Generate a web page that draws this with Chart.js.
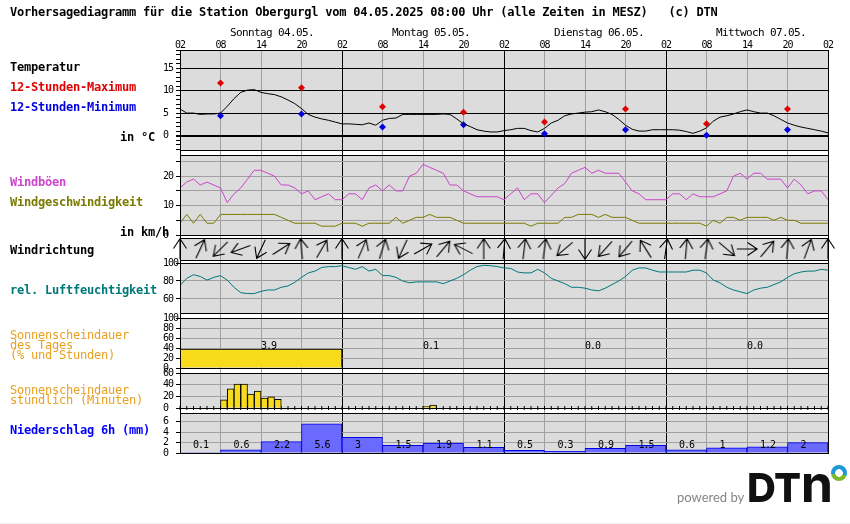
<!DOCTYPE html>
<html lang="de">
<head>
<meta charset="utf-8">
<title>Vorhersagediagramm Obergurgl</title>
<script src="https://cdn.jsdelivr.net/npm/chart.js@4"></script>
<style>
    html, body { margin: 0; padding: 0; background: #fff; }
    #page { position: relative; width: 850px; height: 524px; overflow: hidden; }
    canvas { position: absolute; left: 0; }
    .lbl {
        position: absolute; white-space: pre; z-index: 5;
        font: bold 12px/14px "DejaVu Sans Mono", monospace; letter-spacing: -0.22px;
    }
    .day { font: 11px/14px "DejaVu Sans Mono", monospace; letter-spacing: -0.62px; top: 26px; }
    .orange { color: #e8a020; font-weight: normal; }
    #logo { position: absolute; left: 0; top: 0; z-index: 5; }
    #powered { position: absolute; left: 677px; top: 489px; font: 13px/16px Lato, sans-serif; color: #858585; white-space: nowrap; }
    #dtn { position: absolute; left: 747px; top: 464px; font: 800 40px/46px Inter, sans-serif; letter-spacing: -0.5px; color: #111; white-space: pre; }
    #dtn span { font-size: 52px; line-height: 40px; font-weight: 700; text-transform: lowercase; letter-spacing: 0; }
    #ring {
        position: absolute; left: 831px; top: 465px; width: 16px; height: 16px; border-radius: 50%;
        background: radial-gradient(circle, #fff 0 3.6px, transparent 4px), conic-gradient(from 110deg, #7ab929 0 150deg, #1b9ad6 150deg 360deg);
    }
    #footline { position: absolute; left: 0; top: 523px; width: 850px; height: 1px; background: #efefef; }
</style>
</head>
<body>
<div id="page">
    <div class="lbl" style="left:10px;top:5px">Vorhersagediagramm für die Station Obergurgl vom 04.05.2025 08:00 Uhr (alle Zeiten in MESZ)   (c) DTN</div>
    <div class="lbl day" style="left:230px">Sonntag 04.05.</div>
    <div class="lbl day" style="left:392px">Montag 05.05.</div>
    <div class="lbl day" style="left:554px">Dienstag 06.05.</div>
    <div class="lbl day" style="left:716px">Mittwoch 07.05.</div>

    <div class="lbl" style="left:10px;top:60px">Temperatur</div>
    <div class="lbl" style="left:10px;top:80px;color:#e00000">12-Stunden-Maximum</div>
    <div class="lbl" style="left:10px;top:100px;color:#0000e0">12-Stunden-Minimum</div>
    <div class="lbl" style="left:120px;top:130px">in °C</div>
    <div class="lbl" style="left:10px;top:175px;color:#cc44cc">Windböen</div>
    <div class="lbl" style="left:10px;top:195px;color:#7a7a00">Windgeschwindigkeit</div>
    <div class="lbl" style="left:120px;top:225px">in km/h</div>
    <div class="lbl" style="left:10px;top:243px">Windrichtung</div>
    <div class="lbl" style="left:10px;top:283px;color:#007878">rel. Luftfeuchtigkeit</div>
    <div class="lbl orange" style="left:10px;top:328px">Sonnenscheindauer</div>
    <div class="lbl orange" style="left:10px;top:338px">des Tages</div>
    <div class="lbl orange" style="left:10px;top:348px">(% und Stunden)</div>
    <div class="lbl orange" style="left:10px;top:383px">Sonnenscheindauer</div>
    <div class="lbl orange" style="left:10px;top:393px">stündlich (Minuten)</div>
    <div class="lbl" style="left:10px;top:423px;color:#0000ff">Niederschlag 6h (mm)</div>

    <div id="logo">
        <div id="powered">powered by</div>
        <div id="dtn">DT<span>N</span></div>
        <div id="ring"></div>
    </div>
    <div id="footline"></div>
</div>

<script>
// --- Data ---
const hourTickLabels = ["02","08","14","20","02","08","14","20","02","08","14","20","02","08","14","20","02"];
const dayNames = ["Sonntag","Montag","Dienstag","Mittwoch"];

// hourly, starting 02:00 on 04.05.
const temperature = [
    5.9,5.0,5.0,4.7,4.8,4.8,5.0,6.5,8.2,9.6,10.1,10.2,9.6,9.3,9.1,8.6,7.9,7.1,6.0,4.7,4.1,3.7,3.4,3.0,
    2.6,2.6,2.5,2.4,2.8,2.3,3.4,3.8,3.9,4.7,4.7,4.7,4.7,4.7,4.7,4.8,4.7,3.7,2.6,2.0,1.3,1.0,0.8,0.8,
    1.1,1.3,1.6,1.6,1.1,0.8,1.6,2.8,3.4,4.4,4.8,5.0,5.2,5.3,5.7,5.3,4.7,3.6,2.3,1.4,1.0,1.0,1.3,1.3,
    1.3,1.3,1.2,0.9,0.5,1.0,1.7,3.2,4.1,4.4,4.8,5.3,5.7,5.3,5.0,5.0,4.4,3.6,2.8,2.3,1.9,1.6,1.3,1.0,0.6
];
const extremeHours = [6,18,30,42,54,66,78,90];
const tempMax = [11.7,10.6,6.4,5.2,3.0,5.9,2.6,5.9];
const tempMin = [4.4,4.8,1.9,2.4,0.4,1.3,0.1,1.3];

const windGusts = [
    16,18,19,17,18,17,16,11,14,16,19,22,22,21,20,17,17,16,14,15,12,13,14,12,
    12,14,14,12,16,17,15,17,15,15,20,21,24,23,22,21,17,17,15,14,13,13,13,13,
    12,14,16,12,14,14,11,13.5,16,17.5,21,22,23,21,22,21,21,21,18,15,14,12,12,12,
    12,14,14,12,14,13,13,13,14,15,20,21,19,21,21,19,19,19,16,19,17,14,15,15,12
];
const windSpeed = [
    4,7,4,7,4,4,7,7,7,7,7,7,7,7,7,6,5,4,4,4,4,3,3,3,
    4,4,4,3,4,4,4,4,6,4,5,6,6,7,6,6,6,5,4,4,4,4,4,4,
    4,4,4,4,3,4,4,4,4,6,6,7,7,7,6,7,6,6,6,5,4,4,4,4,
    4,4,4,4,4,4,3,5,4,6,6,5,6,6,6,6,5,6,5,5,4,4,4,4,4
];
// one arrow every 3 hours, degrees clockwise from north
const windDirection = [0,25,225,250,205,57,355,30,0,23,17,205,60,40,297,0,5,7,8,230,180,222,220,328,8,5,8,130,90,40,5,20,0];

const humidity = [
    75,83,87,85,81,84,86,81,73,67,66,66,68.5,70,70,73,74.5,78.5,84,89,91,95,96,96,
    97,95,93,96,91,93,86,86,84,80,78,79,79,79,79,77,80,83,87,92,96,97.5,97,96,
    94.5,94,90,89,89,93,89,83,80,77,73,73,72,70,69,72,76,80,85,92,94.5,94.5,92,90,
    90,90,90,90,92,92,89,81,78,73,70,68,66,70,72,73,76,79,84,88,90,91,91,93,92
];

const sunDayPercent = [38,1,null,null];
const sunDayHours = [3.9,0.1,0.0,0.0];
// 96 hourly slots are built from these two lists
const sunHourSlots = [6,7,8,9,10,11,12,13,14,36,37];
const sunHourMinutes = [14,33,41,41,24,29,17,19,15,3,5];

const precipitation = [0.1,0.6,2.2,5.6,3,1.5,1.9,1.1,0.5,0.3,0.9,1.5,0.6,1,1.2,2];

// --- Shared look ---
const GRAY_BG = "#dcdcdc";
const GRID = "#a0a0a0";
const MONO = '"DejaVu Sans Mono", monospace';

Chart.defaults.animation = false;
Chart.defaults.responsive = false;

const page = document.getElementById("page");
const slotLabels = n => Array.from({ length: n }, (_, i) => String(i));
const toXY = (values, step = 1) => values.map((y, i) => ({ x: i * step, y }));

// arrow bitmap for the wind direction row, one per reading
function makeArrow(deg) {
    const c = document.createElement("canvas");
    c.width = 30;
    c.height = 30;
    const g = c.getContext("2d");
    g.translate(15, 15);
    g.rotate(deg * Math.PI / 180);
    g.strokeStyle = "#000";
    g.lineWidth = 1.1;
    g.beginPath();
    g.moveTo(0, 10.2);
    g.lineTo(0, -10.2);
    g.moveTo(-6.5, -0.5);
    g.lineTo(0, -10.2);
    g.lineTo(6.5, -0.5);
    g.stroke();
    return c;
}

function hourAxis() {
    return {
        type: "linear", min: 0, max: 96, offset: false,
        afterFit: s => { s.height = 0; },
        border: { display: false },
        ticks: { display: false, stepSize: 6 },
        grid: {
            offset: false, drawTicks: false, lineWidth: 1,
            color: c => (c.tick.value % 24 === 0 ? "#000" : GRID)
        }
    };
}

function hiddenAxis(labels) {
    return { type: "category", labels, offset: true, display: false, grid: { offset: true } };
}

// gray plot background, black frame; letter spacing brings the tick font to the 5px pitch
const panelLook = {
    id: "panelLook",
    beforeDraw(chart) {
        const a = chart.chartArea, ctx = chart.ctx;
        ctx.letterSpacing = "-1px";
        ctx.fillStyle = GRAY_BG;
        ctx.fillRect(a.left, a.top, a.width, a.height);
    },
    afterDraw(chart) {
        const a = chart.chartArea, ctx = chart.ctx;
        ctx.strokeStyle = "#000";
        ctx.lineWidth = 1;
        ctx.strokeRect(a.left + 0.5, a.top + 0.5, a.width, a.height);
    }
};

// top/bottom are the panel's plot edges in page pixels
function makePanel(top, bottom, yAxis, datasets, extra = {}) {
    const margin = 12;
    const canvas = document.createElement("canvas");
    canvas.width = 850;
    canvas.height = bottom - top + margin * 2;
    canvas.style.top = (top - margin) + "px";
    page.appendChild(canvas);

    return new Chart(canvas.getContext("2d"), {
        type: "line",
        data: { datasets },
        options: {
            layout: { autoPadding: false, padding: { left: yAxis.display === false ? 180 : 163, right: 22, top: margin, bottom: margin } },
            plugins: { legend: { display: false }, tooltip: { enabled: false } },
            elements: { line: { tension: 0 } },
            scales: Object.assign({ x: hourAxis(), y: yAxis }, extra.scales || {})
        },
        plugins: [panelLook].concat(extra.plugins || [])
    });
}

function valueAxis(min, max, step, labelled, gridColor, zeroWidth) {
    return {
        type: "linear", min, max, offset: false,
        afterFit: s => { s.width = 17; },
        border: { display: false },
        ticks: {
            stepSize: step, autoSkip: false, includeBounds: false, crossAlign: "far", padding: 3, color: "#000",
            font: { family: MONO, size: 10 },
            callback: v => (labelled.includes(v) ? String(v) : "")
        },
        grid: {
            tickLength: 4, tickColor: "#000",
            color: c => (labelled.includes(c.tick.value) || gridColor.all ? gridColor.line : "rgba(0,0,0,0)"),
            lineWidth: c => (zeroWidth && c.tick.value === 0 ? zeroWidth : 1)
        }
    };
}

// --- Vertical hour lines running through the white gaps + hour labels on top ---
(function makeFrame() {
    const canvas = document.createElement("canvas");
    canvas.width = 850;
    canvas.height = 524;
    canvas.style.top = "0";
    page.appendChild(canvas);
    const x = hourAxis();
    x.position = "top";
    x.afterFit = s => { s.height = 10; };
    x.ticks = {
        display: true, stepSize: 6, autoSkip: false, maxRotation: 0, padding: -1, color: "#000",
        font: { family: MONO, size: 10 },
        callback: (v, i) => hourTickLabels[i]
    };
    new Chart(canvas.getContext("2d"), {
        type: "line",
        data: { datasets: [] },
        options: {
            layout: { autoPadding: false, padding: { left: 180, right: 22, top: 40, bottom: 70 } },
            plugins: { legend: { display: false }, tooltip: { enabled: false } },
            scales: { x, y: { display: false, min: 0, max: 1 } }
        },
        plugins: [{ id: "tickSpacing", beforeDraw(c) { c.ctx.letterSpacing = "-1px"; } }]
    });
})();

// --- Temperature ---
makePanel(50, 150,
    valueAxis(-3.2, 19, 1, [0, 5, 10, 15], { line: "#000" }, 2),
    [
        { data: toXY(temperature), borderColor: "#000", borderWidth: 1, pointRadius: 0 },
        { data: extremeHours.map((x, i) => ({ x, y: tempMax[i] })), showLine: false, pointStyle: "rectRot", pointRadius: 3.5, backgroundColor: "#e00000", borderColor: "#e00000", borderWidth: 0, clip: false },
        { data: extremeHours.map((x, i) => ({ x, y: tempMin[i] })), showLine: false, pointStyle: "rectRot", pointRadius: 3.5, backgroundColor: "#0000e0", borderColor: "#0000e0", borderWidth: 0, clip: false }
    ]);

// --- Wind ---
makePanel(155, 235,
    valueAxis(0, 27.2, 5, [0, 10, 20], { line: GRID, all: true }),
    [
        { data: toXY(windGusts), borderColor: "#cc44cc", borderWidth: 1, pointRadius: 0 },
        { data: toXY(windSpeed), borderColor: "#7a7a00", borderWidth: 1, pointRadius: 0 }
    ]);

// --- Wind direction ---
makePanel(238, 260,
    { type: "linear", min: -1, max: 1, display: false },
    [{
        data: toXY(windDirection.map(() => 0), 3),
        showLine: false, clip: false, pointRadius: 5,
        pointStyle: windDirection.map(makeArrow)
    }]);

// --- Relative humidity ---
makePanel(263, 313,
    valueAxis(44.4, 100, 20, [60, 80, 100], { line: GRID, all: true }),
    [{ data: toXY(humidity), borderColor: "#007878", borderWidth: 1, pointRadius: 0 }]);

// --- Sunshine per day ---
makePanel(318, 368,
    valueAxis(0, 100, 20, [0, 20, 40, 60, 80, 100], { line: GRID, all: true }),
    [{
        type: "bar", xAxisID: "xDay", data: sunDayPercent,
        backgroundColor: "#f8dc1c", borderColor: "#000", borderWidth: 1,
        barPercentage: 1, categoryPercentage: 1
    }],
    {
        scales: { xDay: hiddenAxis(dayNames) },
        plugins: [{
            id: "sunDayLabels",
            // drawn under the bars, the reference's 3.9 is partly covered as well
            beforeDatasetsDraw(chart) {
                const ctx = chart.ctx, { x, y } = chart.scales;
                ctx.save();
                ctx.fillStyle = "#000";
                ctx.font = "10px " + MONO;
                ctx.textBaseline = "middle";
                sunDayHours.forEach((h, i) => {
                    ctx.fillText(h.toFixed(1), x.getPixelForValue(12 + 24 * i), y.getPixelForValue(43));
                });
                ctx.restore();
            }
        }]
    });

// --- Sunshine per hour ---
const sunByHour = new Array(96).fill(null);
sunHourSlots.forEach((slot, i) => { sunByHour[slot] = sunHourMinutes[i]; });
makePanel(373, 408,
    valueAxis(0, 60, 20, [0, 20, 40, 60], { line: GRID, all: true }),
    [
        {
            type: "bar", xAxisID: "xHour", data: sunByHour,
            backgroundColor: "#f8dc1c", borderColor: "#000", borderWidth: 1,
            barThickness: 6.75, grouped: false
        },
        {
            type: "scatter", data: toXY(new Array(97).fill(0)), clip: false,
            pointStyle: "line", pointRotation: 90, pointRadius: 2, borderColor: "#000", borderWidth: 1
        }
    ],
    { scales: { xHour: hiddenAxis(slotLabels(96)) } });

// --- Precipitation ---
makePanel(413, 453,
    valueAxis(0, 7.7, 2, [0, 2, 4, 6], { line: GRID, all: true }),
    [{
        type: "bar", xAxisID: "x6h", data: precipitation,
        backgroundColor: "#6a6aff", borderColor: "#0000e8", borderWidth: 1,
        barPercentage: 1, categoryPercentage: 1
    }],
    {
        scales: { x6h: hiddenAxis(slotLabels(16)) },
        plugins: [{
            id: "precipLabels",
            afterDatasetsDraw(chart) {
                const ctx = chart.ctx, { x, y } = chart.scales;
                ctx.save();
                ctx.fillStyle = "#000";
                ctx.font = "10px " + MONO;
                ctx.textBaseline = "middle";
                precipitation.forEach((p, i) => {
                    ctx.fillText(String(p), x.getPixelForValue(6 * i) + 13, y.getPixelForValue(1.5));
                });
                ctx.restore();
            }
        }]
    });
</script>
</body>
</html>
